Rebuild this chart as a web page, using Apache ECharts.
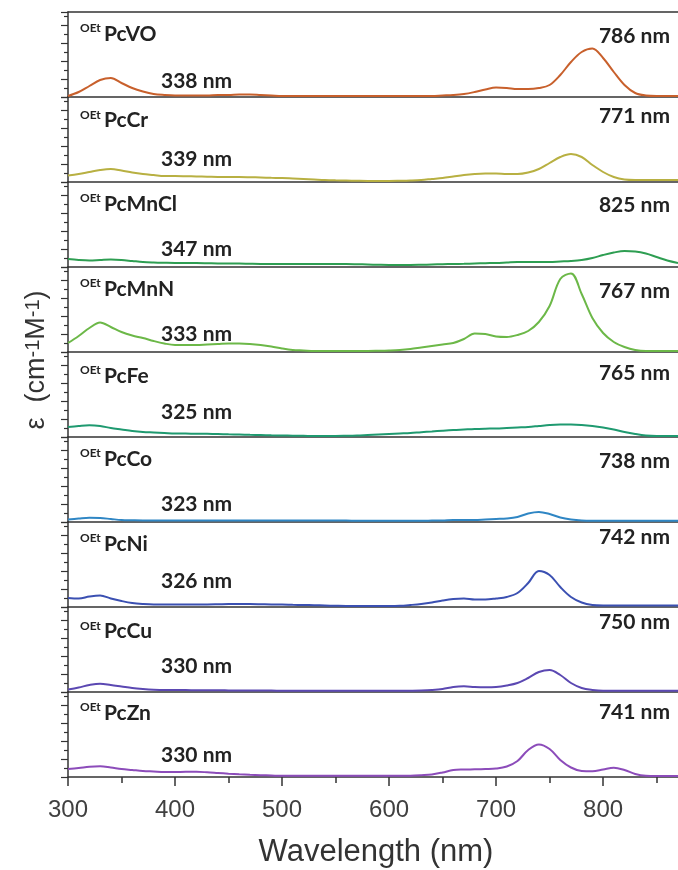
<!DOCTYPE html>
<html><head><meta charset="utf-8">
<script src="https://cdn.jsdelivr.net/npm/echarts@6/dist/echarts.min.js"></script>
<style>html,body{margin:0;padding:0;background:#fff}#c{width:678px;height:870px}</style>
</head><body><div id="c"></div>
<script>
// ---- data ----
const wavelengths = [300,310,320,330,340,350,360,370,380,390,
  400,410,420,430,440,450,460,470,480,490,
  500,510,520,530,540,550,560,570,580,590,
  600,610,620,630,640,650,660,670,680,690,
  700,710,720,730,740,750,760,770,780,790,
  800,810,820,830,840,850,860,870];
const compounds = ['PcVO','PcCr','PcMnCl','PcMnN','PcFe','PcCo','PcNi','PcCu','PcZn'];
const soretLabels = ['338 nm','339 nm','347 nm','333 nm','325 nm','323 nm','326 nm','330 nm','330 nm'];
const qLabels = ['786 nm','771 nm','825 nm','767 nm','765 nm','738 nm','742 nm','750 nm','741 nm'];
const xTickValues = [300,400,500,600,700,800];

const VO = [1,5,11,17,19,14,9,5.5,3,2,
  1.5,1.5,1.5,1.5,2,2,2.5,2.5,2,1.5,
  1,1,1,1,1,1,1,1,1,1,
  1,1,1,1,1,1.5,2,3,5,7.5,
  9.5,9,8,8,9,12,22,35,45,48.5,
  39,25,12,4,1.5,1,1,1];
const Cr = [6.5,8,10,12,13,11.5,9.5,8,7,6,
  6,5.8,5.5,5.3,5,5,5,4.8,4.5,4.2,
  4,3.5,3,2.5,2,1.7,1.5,1.2,1,1,
  1,1.2,1.5,2,3,4,5.5,7,8,8.5,
  8.5,8,8,9.5,13,19,25,28,25,17,
  10,5,2.5,2,2,2,2,2];
const MnCl = [8,7,6.5,7,7.5,7,6,5,4.5,4.2,
  4,4,4,3.8,3.5,3.5,3.5,3.2,3,3,
  3,3,3,3,3,3,3,2.8,2.5,2.2,
  2,2,2,2.2,2.5,2.8,3,3.2,3.5,3.8,
  4,4.5,5,5,5,5,5.5,6,7,9,
  12,14.5,16,15.5,13.5,10,6.5,4];
const MnN = [9,16,24,29.5,25,20,16.5,14,11,8.5,
  7,7,7,7.5,8,8.5,8.5,8,7,5.5,
  3.5,2,1.5,1,1,1,1,1,1,1.2,
  1.5,2,3,4.5,6,7.5,9,13,18.5,18,
  15.5,15,17,21,30,46,73,78.6,58,34,
  19,10,5,2,1,1,1,1];
const Fe = [10,11,11.7,11,9,7.5,6,5,4.5,4,
  3.5,3.4,3.3,3.2,3,2.7,2.5,2.2,2,1.7,
  1.5,1.3,1.2,1,1,1,1.2,1.5,2,2.5,
  3,3.5,4,4.8,5.5,6.3,7,7.5,8,8.3,
  8.5,9,9.5,10,11,12,12.5,12.5,12,11,
  9.5,7.5,5,3,1.5,1,1,1];
const Co = [2.5,3.5,4.3,4,3,2,1.7,1.5,1.5,1.5,
  1.5,1.5,1.5,1.5,1.5,1.5,1.5,1.5,1.5,1.5,
  1.5,1.5,1.5,1.4,1.4,1.4,1.4,1.3,1.3,1.3,
  1.3,1.3,1.3,1.3,1.4,1.5,2,2,2,2.5,
  3,3.5,5,8.5,10,8,4.5,2.5,1.5,1.3,
  1.3,1.3,1.3,1.3,1.3,1.3,1.3,1.3];
const Ni = [9,8.5,10.5,11.5,8.5,6,4,3,2.5,2.5,
  2.5,2.5,2.5,2.5,2.7,3,3,3,2.8,2.5,
  2.5,2.2,2,1.8,1.5,1.2,1,1,1,1,
  1,1.2,2,3,4.5,6.5,8,8.5,7.5,7.5,
  8.5,10,14,24,36,32,20,10,4.5,2,
  1.5,1.5,1.5,1.5,1.5,1.5,1.5,1.5];
const Cu = [2.5,4.5,7,8.3,7,5.5,4,3,2.3,2,
  2,1.9,1.8,1.7,1.7,1.6,1.5,1.5,1.5,1.4,
  1.3,1.2,1.2,1.2,1.2,1.2,1.2,1.2,1.2,1.2,
  1.2,1.2,1.3,1.5,2,3,5,5.7,5,4.7,
  5,6.5,9,14,20,22,17,9,4,2,
  1.2,1.2,1.2,1.2,1.2,1.2,1.2,1.2];
const Zn = [8,9,10.3,10.7,9.5,8,7,6,5.5,5,
  5,5.2,5.2,4.7,4,3.3,2.7,2.2,1.8,1.5,
  1.2,1.2,1.2,1.2,1.2,1.2,1.2,1.2,1.2,1.2,
  1.2,1.2,1.3,1.8,2.5,4.5,7,7.5,7.7,8,
  8.5,10.5,16,27,32.5,28,17,9.5,6,5.7,
  7.5,9.3,7,3,1.2,1,1,1];
const spectra = [VO, Cr, MnCl, MnN, Fe, Co, Ni, Cu, Zn];

// ---- styles / layout ----
const colors = ['#c8602c','#b8b042','#2e9e52','#6cb848','#1f9a70','#2f86c4','#3b50b2','#5b48b2','#8c4cba'];
const TOP = 12, H = 85, LEFT = 68;
const nameOff = [22,23.7,22,22,24,22,22,24.7,21];
const qOff = [24.3,19,23.5,24,21,24.3,15.5,15.5,20];
const soretOff = [68.8,62,67,67,60.5,66.8,59,58.8,63.5];
const AX = '#333';
const LABEL_FONT = 'Lato, "Open Sans", sans-serif';
const AXIS_FONT = '"Liberation Sans", Arial, sans-serif';

const n = compounds.length;
const grids = [], xAxes = [], yAxes = [], series = [], graphics = [];
for (let i = 0; i < n; i++) {
  const last = i === n - 1;
  grids.push({ left: LEFT, right: 0, top: TOP + H * i, height: H, containLabel: false });
  xAxes.push({
    type: 'value', gridIndex: i, min: 300, max: 870, interval: 100,
    axisLine: { show: true, onZero: false, lineStyle: { color: AX, width: 1.5 } },
    axisTick: { show: last, length: 9, lineStyle: { color: AX, width: 1.5 },
      customValues: last ? xTickValues : undefined },
    minorTick: { show: last, splitNumber: 2, length: 6, lineStyle: { color: AX, width: 1.5 } },
    axisLabel: { show: last, margin: 21, fontSize: 24, color: '#404040', fontFamily: AXIS_FONT,
      customValues: last ? xTickValues : undefined },
    splitLine: { show: false }
  });
  yAxes.push({
    type: 'value', gridIndex: i, min: 0, max: 85, interval: 18,
    axisLine: { show: true, lineStyle: { color: AX, width: 1.5 } },
    axisTick: { show: true, length: 7, lineStyle: { color: AX, width: 1.2 } },
    minorTick: { show: true, splitNumber: 2, length: 4, lineStyle: { color: AX, width: 1.2 } },
    axisLabel: { show: false }, splitLine: { show: false }
  });
  series.push({
    type: 'line', xAxisIndex: i, yAxisIndex: i, smooth: 0.35, showSymbol: false, symbol: 'none',
    data: wavelengths.map((w, j) => [w, spectra[i][j]]),
    lineStyle: { color: colors[i], width: 2 }, itemStyle: { color: colors[i] }, z: 1
  });
  const top = TOP + H * i;
  graphics.push({ type: 'text', x: 80, y: top + nameOff[i] - 5.5, style: {
    text: 'OEt', font: 'bold 12px ' + LABEL_FONT, fill: '#222', textAlign: 'left', textVerticalAlign: 'middle' } });
  graphics.push({ type: 'text', x: 104, y: top + nameOff[i], style: {
    text: compounds[i], font: 'bold 21px ' + LABEL_FONT, fill: '#222', textAlign: 'left', textVerticalAlign: 'middle' } });
  graphics.push({ type: 'text', x: 670, y: top + qOff[i], style: {
    text: qLabels[i], font: 'bold 21px ' + LABEL_FONT, fill: '#222', textAlign: 'right', textVerticalAlign: 'middle' } });
  graphics.push({ type: 'text', x: 161, y: top + soretOff[i], style: {
    text: soretLabels[i], font: 'bold 21px ' + LABEL_FONT, fill: '#222', textAlign: 'left', textVerticalAlign: 'middle' } });
}
// top border of first panel
xAxes.push({
  type: 'value', gridIndex: 0, min: 300, max: 870, position: 'top',
  axisLine: { show: true, onZero: false, lineStyle: { color: AX, width: 1.5 } },
  axisTick: { show: false }, axisLabel: { show: false }, splitLine: { show: false }
});
// axis titles
graphics.push({ type: 'text', x: 376, y: 852, style: {
  text: 'Wavelength (nm)', font: '31px ' + AXIS_FONT, fill: '#333', textAlign: 'center', textVerticalAlign: 'middle' } });
graphics.push({ type: 'text', x: 37, y: 360, rotation: Math.PI / 2, style: {
  text: '{a|ε  (cm}{s|-1}{a|M}{s|-1}{a|)}', textAlign: 'center', textVerticalAlign: 'middle', fill: '#333',
  rich: {
    a: { fontSize: 27, fontFamily: AXIS_FONT, fill: '#333', color: '#333', verticalAlign: 'bottom' },
    s: { fontSize: 20, fontFamily: AXIS_FONT, fill: '#333', color: '#333', verticalAlign: 'top' }
  } } });

const chart = echarts.init(document.getElementById('c'), null, { renderer: 'canvas' });
chart.setOption({
  animation: false, backgroundColor: '#fff',
  grid: grids, xAxis: xAxes, yAxis: yAxes, series: series, graphic: graphics
});
</script></body></html>
